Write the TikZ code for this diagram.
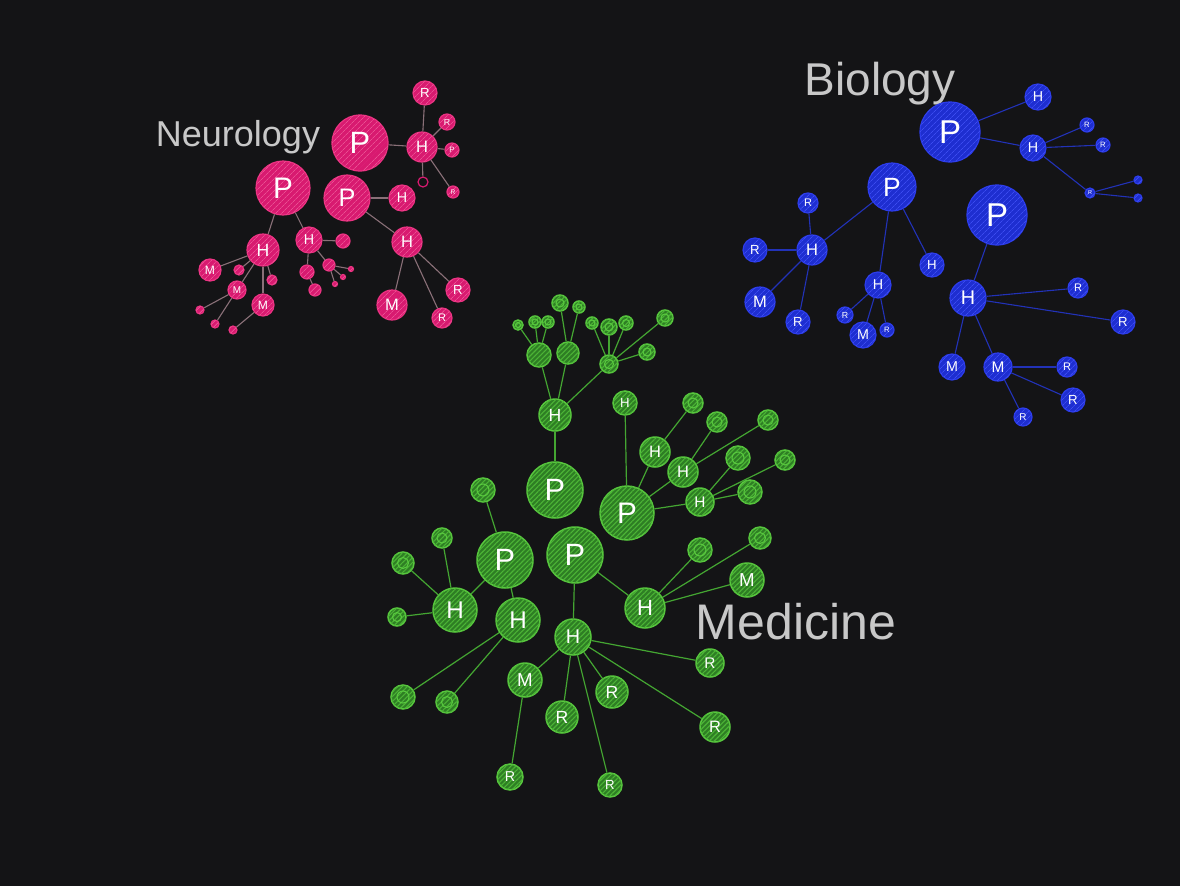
\documentclass[tikz,border=0pt]{standalone}
\usepackage{fontspec}
\setmainfont{Liberation Sans}
\usetikzlibrary{patterns.meta}
\definecolor{bg}{HTML}{141416}
\definecolor{pkf}{HTML}{D81A70}
\definecolor{pkd}{HTML}{EC3282}
\definecolor{pkh}{HTML}{EA5092}
\definecolor{pke}{HTML}{8A7078}
\definecolor{blf}{HTML}{1E2ED0}
\definecolor{bld}{HTML}{2C3CEC}
\definecolor{blh}{HTML}{3C4CF0}
\definecolor{ble}{HTML}{2232B8}
\definecolor{grf}{HTML}{2E7E24}
\definecolor{grd}{HTML}{58C83E}
\definecolor{grh}{HTML}{4CB436}
\definecolor{gre}{HTML}{44A632}
\definecolor{ttlc}{HTML}{C8C8C8}
\newcommand\cn[6]{\pgfmathsetmacro\fsz{max(1.1*#5,3)}\node[#1,minimum size={2*#5*1pt},font=\fontsize{\fsz pt}{\fsz pt}\selectfont] (#2) at (#3,#4) {#6};}
\newcommand\gc[4]{\cn{gr}{#1}{#2}{#3}{#4}{}\draw[grd,line width=1.1pt] (#1.center) circle ({0.5*#4});}
\begin{document}
\begin{tikzpicture}[x=1pt,y=-1pt,
  base/.style={circle,inner sep=0pt,text=white,line width=1.2pt},
  pk/.style={base,fill=pkf,draw=pkd,postaction={pattern={Lines[angle=45,distance=4pt,line width=0.8pt]},pattern color=pkh}},
  bl/.style={base,fill=blf,draw=bld,postaction={pattern={Lines[angle=45,distance=4pt,line width=0.8pt]},pattern color=blh}},
  gr/.style={base,fill=grf,draw=grd,line width=1.5pt,postaction={pattern={Lines[angle=45,distance=3.5pt,line width=1.1pt]},pattern color=grh}},
  pkring/.style={circle,inner sep=0pt,draw=pkf,line width=1.2pt},
  pe/.style={draw=pke,line width=1.1pt},
  be/.style={draw=ble,line width=1.1pt},
  ge/.style={draw=gre,line width=1.2pt},
  ttl/.style={text=ttlc,inner sep=0pt}]
\fill[bg] (0,0) rectangle (1180,886);
% ---------------- Neurology ----------------
\node[ttl,font=\fontsize{36}{36}\selectfont] (tneu) at (238,137) {Neurology};
\cn{pk}{n1}{360}{143}{28}{P}
\cn{pk}{n2}{422}{147}{15}{H}
\cn{pk}{n3}{425}{93}{12}{R}
\cn{pk}{n4}{447}{122}{8}{R}
\cn{pk}{n5}{452}{150}{7}{P}
\cn{pk}{n6}{453}{192}{6}{R}
\node[pkring,minimum size=10pt] (n7) at (423,182) {};
\cn{pk}{n8}{283}{188}{27}{P}
\cn{pk}{n9}{347}{198}{23}{P}
\cn{pk}{n10}{402}{198}{13}{H}
\cn{pk}{n11}{407}{242}{15}{H}
\cn{pk}{n12}{392}{305}{15}{M}
\cn{pk}{n13}{458}{290}{12}{R}
\cn{pk}{n14}{442}{318}{10}{R}
\cn{pk}{n15}{263}{250}{16}{H}
\cn{pk}{n16}{309}{240}{13}{H}
\cn{pk}{n17}{343}{241}{7}{}
\cn{pk}{n18}{307}{272}{7}{}
\cn{pk}{n19}{315}{290}{6}{}
\cn{pk}{n20}{329}{265}{6}{}
\cn{pk}{n21}{343}{277}{2.5}{}
\cn{pk}{n22}{335}{284}{2.5}{}
\cn{pk}{n23}{351}{269}{2.5}{}
\cn{pk}{n24}{210}{270}{11}{M}
\cn{pk}{n25}{239}{270}{5}{}
\cn{pk}{n26}{237}{290}{9}{M}
\cn{pk}{n27}{272}{280}{5}{}
\cn{pk}{n28}{263}{305}{11}{M}
\cn{pk}{n29}{200}{310}{4}{}
\cn{pk}{n30}{215}{324}{4}{}
\cn{pk}{n31}{233}{330}{4}{}
\foreach \a/\b in {n1/n2,n2/n3,n2/n4,n2/n5,n2/n6,n2/n7,n8/n15,n8/n16,n9/n10,n9/n11,
  n11/n12,n11/n13,n11/n14,n15/n24,n15/n25,n15/n26,n15/n27,n15/n28,n26/n29,n26/n30,n28/n31,
  n16/n17,n16/n18,n18/n19,n16/n20,n20/n21,n20/n22,n20/n23}
  \draw[pe] (\a) -- (\b);
% ---------------- Biology ----------------
\node[ttl,font=\fontsize{46}{46}\selectfont] (tbio) at (880,84) {Biology};
\cn{bl}{b1}{950}{132}{30}{P}
\cn{bl}{b2}{1038}{97}{13}{H}
\cn{bl}{b3}{1033}{148}{13}{H}
\cn{bl}{b4}{1087}{125}{7}{R}
\cn{bl}{b5}{1103}{145}{7}{R}
\cn{bl}{b6}{1090}{193}{5}{R}
\cn{bl}{b7}{1138}{180}{4}{}
\cn{bl}{b8}{1138}{198}{4}{}
\cn{bl}{b9}{892}{187}{24}{P}
\cn{bl}{b10}{997}{215}{30}{P}
\cn{bl}{b11}{812}{250}{15}{H}
\cn{bl}{b12}{808}{203}{10}{R}
\cn{bl}{b13}{755}{250}{12}{R}
\cn{bl}{b14}{760}{302}{15}{M}
\cn{bl}{b15}{798}{322}{12}{R}
\cn{bl}{b16}{932}{265}{12}{H}
\cn{bl}{b17}{878}{285}{13}{H}
\cn{bl}{b18}{845}{315}{8}{R}
\cn{bl}{b19}{863}{335}{13}{M}
\cn{bl}{b20}{887}{330}{7}{R}
\cn{bl}{b21}{968}{298}{18}{H}
\cn{bl}{b22}{1078}{288}{10}{R}
\cn{bl}{b23}{1123}{322}{12}{R}
\cn{bl}{b24}{952}{367}{13}{M}
\cn{bl}{b25}{998}{367}{14}{M}
\cn{bl}{b26}{1067}{367}{10}{R}
\cn{bl}{b27}{1073}{400}{12}{R}
\cn{bl}{b28}{1023}{417}{9}{R}
\foreach \a/\b in {b1/b2,b1/b3,b3/b4,b3/b5,b3/b6,b6/b7,b6/b8,b9/b11,b9/b16,b9/b17,
  b11/b12,b11/b13,b11/b14,b11/b15,b17/b18,b17/b19,b17/b20,b10/b21,b21/b22,b21/b23,
  b21/b24,b21/b25,b25/b26,b25/b27,b25/b28}
  \draw[be] (\a) -- (\b);
% ---------------- Medicine ----------------
\node[ttl,font=\fontsize{50}{50}\selectfont] (tmed) at (796,622) {Medicine};
\cn{gr}{g1}{555}{490}{28}{P}
\cn{gr}{g2}{555}{415}{16}{H}
\cn{gr}{g3}{539}{355}{12}{}
\cn{gr}{g4}{568}{353}{11}{}
\gc{g5}{609}{364}{9}
\gc{g6}{647}{352}{8}
\gc{g7}{518}{325}{5}
\gc{g8}{535}{322}{6}
\gc{g9}{548}{322}{6}
\gc{g10}{560}{303}{8}
\gc{g11}{579}{307}{6}
\gc{g12}{592}{323}{6}
\gc{g13}{609}{327}{8}
\gc{g14}{626}{323}{7}
\gc{g15}{665}{318}{8}
\cn{gr}{g16}{627}{513}{27}{P}
\cn{gr}{g17}{625}{403}{12}{H}
\gc{g18}{693}{403}{10}
\gc{g19}{717}{422}{10}
\gc{g20}{768}{420}{10}
\cn{gr}{g21}{655}{452}{15}{H}
\cn{gr}{g22}{683}{472}{15}{H}
\gc{g23}{738}{458}{12}
\gc{g24}{785}{460}{10}
\cn{gr}{g25}{700}{502}{14}{H}
\gc{g26}{750}{492}{12}
\gc{g27}{483}{490}{12}
\cn{gr}{g28}{505}{560}{28}{P}
\cn{gr}{g29}{575}{555}{28}{P}
\cn{gr}{g30}{455}{610}{22}{H}
\cn{gr}{g31}{518}{620}{22}{H}
\cn{gr}{g32}{573}{637}{18}{H}
\cn{gr}{g33}{645}{608}{20}{H}
\cn{gr}{g34}{747}{580}{17}{M}
\gc{g35}{700}{550}{12}
\gc{g36}{760}{538}{11}
\gc{g37}{442}{538}{10}
\gc{g38}{403}{563}{11}
\gc{g39}{397}{617}{9}
\gc{g40}{403}{697}{12}
\gc{g41}{447}{702}{11}
\cn{gr}{g42}{525}{680}{17}{M}
\cn{gr}{g43}{562}{717}{16}{R}
\cn{gr}{g44}{612}{692}{16}{R}
\cn{gr}{g45}{710}{663}{14}{R}
\cn{gr}{g46}{715}{727}{15}{R}
\cn{gr}{g47}{510}{777}{13}{R}
\cn{gr}{g48}{610}{785}{12}{R}
\foreach \a/\b in {g1/g2,g2/g3,g2/g4,g2/g5,g3/g7,g3/g8,g3/g9,g4/g10,g4/g11,g5/g12,g5/g13,g5/g14,
  g5/g15,g5/g6,g16/g17,g16/g21,g16/g22,g16/g25,g21/g18,g22/g19,g22/g20,g25/g23,g25/g24,g25/g26,
  g27/g28,g28/g30,g28/g31,g29/g32,g29/g33,g30/g37,g30/g38,g30/g39,g31/g40,g31/g41,
  g32/g42,g32/g43,g32/g44,g32/g45,g32/g46,g32/g48,g42/g47,g33/g35,g33/g34,g33/g36}
  \draw[ge] (\a) -- (\b);
\end{tikzpicture}
\end{document}
